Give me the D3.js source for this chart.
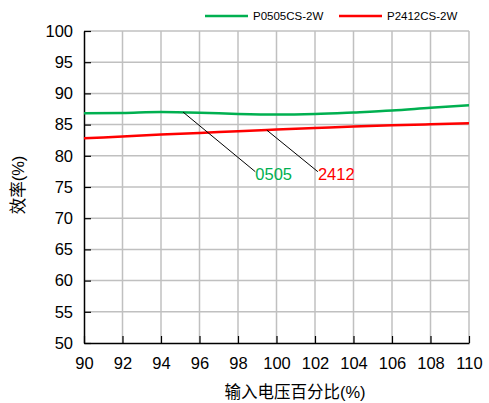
<!DOCTYPE html>
<html>
<head>
<meta charset="utf-8">
<script src="https://cdn.jsdelivr.net/npm/d3@7"></script>
<style>
  body { margin: 0; background: #fff; }
  svg { display: block; font-family: "Liberation Sans", Arial, sans-serif; }
</style>
</head>
<body>
<div id="chart"></div>
<script>
// input voltage percentage (x) and efficiency values (%)
const xTicks = [90, 92, 94, 96, 98, 100, 102, 104, 106, 108, 110];
const yTicks = [50, 55, 60, 65, 70, 75, 80, 85, 90, 95, 100];
const voltage = [90, 92, 94, 96, 98, 100, 102, 104, 106, 108, 110];
const eff0505 = [86.8, 86.85, 87.0, 86.9, 86.7, 86.6, 86.7, 86.95, 87.25, 87.7, 88.1];
const eff2412 = [82.8, 83.1, 83.4, 83.65, 83.95, 84.2, 84.45, 84.7, 84.9, 85.05, 85.2];
const seriesNames = ['P0505CS-2W', 'P2412CS-2W'];
const seriesColors = ['#00b050', '#ff0000'];
// callouts: [from x, from y, to x, to y, label]
const callouts = [
    [95.15, 87.0, 98.9, 77.45, '0505'],
    [99.5, 84.1, 102.15, 77.45, '2412']
];

const width = 489, height = 403;
const margin = { top: 31, right: 20, bottom: 60, left: 84 };
const innerW = 469 - margin.left;
const innerH = 343 - margin.top;

const svg = d3.select('#chart').append('svg')
    .attr('width', width)
    .attr('height', height);

const g = svg.append('g').attr('transform', `translate(${margin.left},${margin.top})`);

const x = d3.scaleLinear().domain([90, 110]).range([0, innerW]);
const y = d3.scaleLinear().domain([50, 100]).range([innerH, 0]);

// grid
g.append('g').selectAll('line.vg')
    .data(xTicks.slice(1))
    .join('line')
    .attr('x1', d => x(d)).attr('x2', d => x(d))
    .attr('y1', 0).attr('y2', innerH)
    .attr('stroke', '#c0c0c0').attr('stroke-width', 1.5);
g.append('g').selectAll('line.hg')
    .data(yTicks.slice(1))
    .join('line')
    .attr('x1', 0).attr('x2', innerW)
    .attr('y1', d => y(d)).attr('y2', d => y(d))
    .attr('stroke', '#c0c0c0').attr('stroke-width', 1.5);

// axes
const xAxis = g.append('g')
    .attr('transform', `translate(0,${innerH})`)
    .call(d3.axisBottom(x).tickValues(xTicks).tickSize(-7).tickPadding(14).tickSizeOuter(0));
const yAxis = g.append('g')
    .call(d3.axisLeft(y).tickValues(yTicks).tickSize(-7).tickPadding(11).tickSizeOuter(0));

[xAxis, yAxis].forEach(a => {
    a.select('.domain').attr('stroke', '#000').attr('stroke-width', 1.5);
    a.selectAll('.tick line').attr('stroke', '#000').attr('stroke-width', 1.2);
    a.selectAll('.tick text')
        .attr('fill', '#000')
        .style('font-size', '16.5px')
        .style('font-family', '"Liberation Sans", Arial, sans-serif');
});

// series
const line = d3.line()
    .x((d, i) => x(voltage[i]))
    .y(d => y(d))
    .curve(d3.curveMonotoneX);

[eff0505, eff2412].forEach((vals, i) => {
    g.append('path')
        .datum(vals)
        .attr('fill', 'none')
        .attr('stroke', seriesColors[i])
        .attr('stroke-width', 2.5)
        .attr('d', line);
});

// callouts
callouts.forEach((c, i) => {
    g.append('line')
        .attr('x1', x(c[0])).attr('y1', y(c[1]))
        .attr('x2', x(c[2])).attr('y2', y(c[3]))
        .attr('stroke', '#000').attr('stroke-width', 1);
    g.append('text')
        .attr('x', x(c[2]))
        .attr('y', y(c[3]) + 8)
        .attr('fill', seriesColors[i])
        .style('font-size', '16.5px')
        .text(c[4]);
});

// legend
const legendX = [205, 339];
seriesNames.forEach((name, i) => {
    svg.append('line')
        .attr('x1', legendX[i]).attr('x2', legendX[i] + 43)
        .attr('y1', 16).attr('y2', 16)
        .attr('stroke', seriesColors[i]).attr('stroke-width', 2.5);
    svg.append('text')
        .attr('x', legendX[i] + 48)
        .attr('y', 20)
        .style('font-size', '11.5px')
        .text(name);
});

// axis titles
svg.append('text')
    .attr('x', 295).attr('y', 398)
    .attr('text-anchor', 'middle')
    .style('font-size', '16.5px')
    .style('font-family', '"Liberation Sans", "Noto Sans CJK SC", sans-serif')
    .text('输入电压百分比(%)');
svg.append('text')
    .attr('transform', 'translate(24,185) rotate(-90)')
    .attr('text-anchor', 'middle')
    .style('font-size', '16.5px')
    .style('font-family', '"Liberation Sans", "Noto Sans CJK SC", sans-serif')
    .text('效率(%)');
</script>
</body>
</html>
